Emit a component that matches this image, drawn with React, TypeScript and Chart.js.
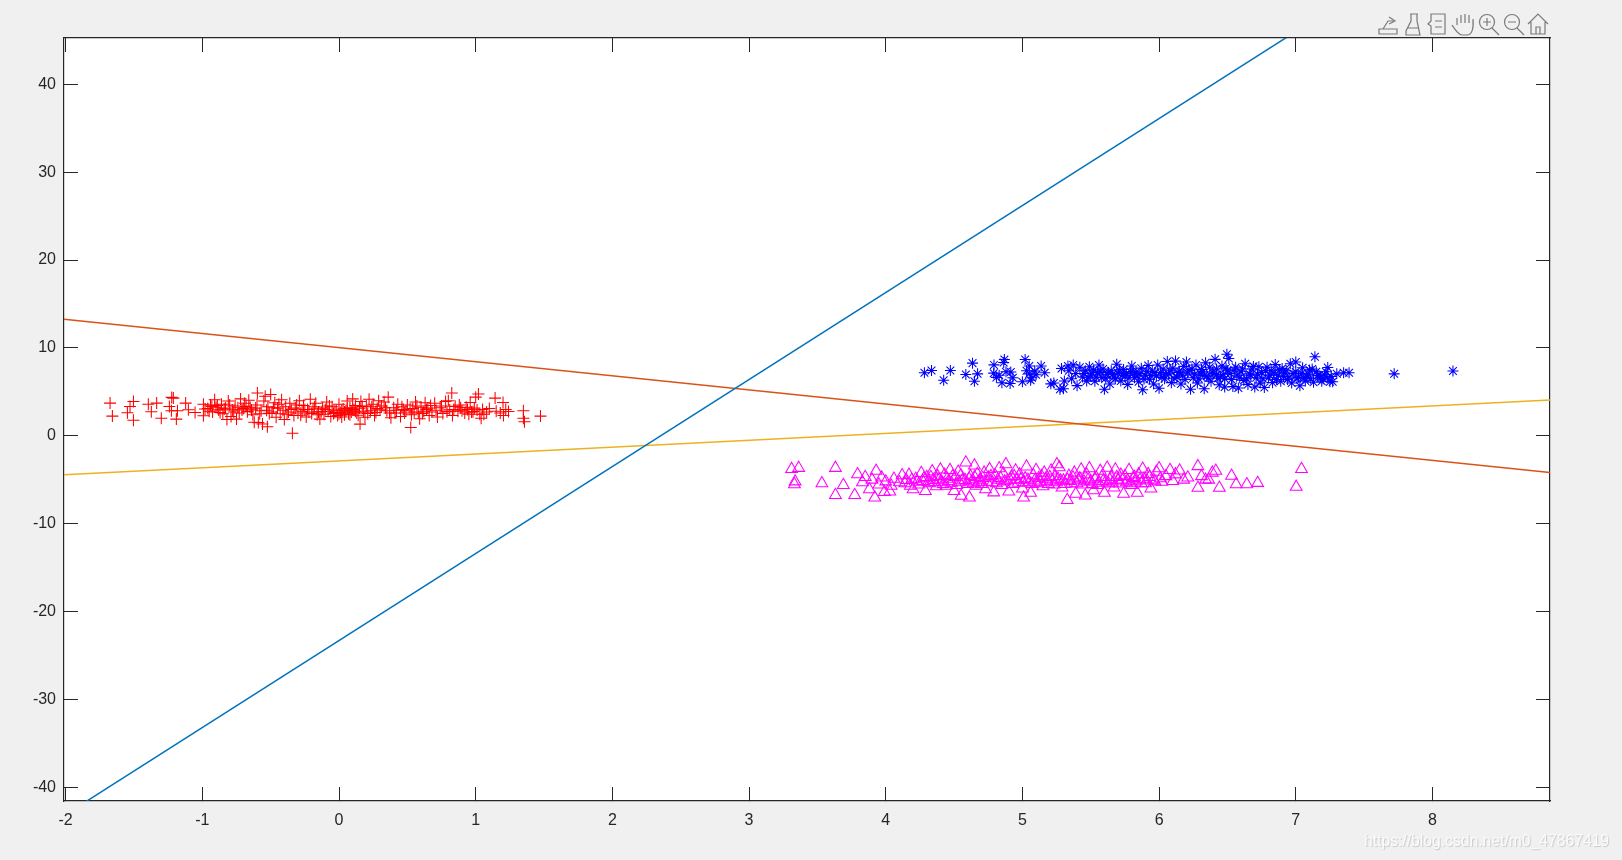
import React, { useEffect, useRef } from "react";
import { Chart, registerables } from "chart.js";

Chart.register(...registerables);

const xTickValues = [-2, -1, 0, 1, 2, 3, 4, 5, 6, 7, 8];
const yTickValues = [-40, -30, -20, -10, 0, 10, 20, 30, 40];
const xRange = [-2.012, 8.86];
const yRange = [-41.56, 45.27];

const redPoints = [
  [-1.675,3.72],[-1.658,2.24],[-1.548,2.62],[-1.529,3.34],[-1.504,3.91],[-1.504,1.78],[-1.395,3.6],[-1.373,2.73],[-1.334,3.72],[-1.3,2.0],
  [-1.241,3.34],[-1.224,4.37],[-1.212,4.29],[-1.226,2.85],[-1.19,1.9],[-1.182,2.85],[-1.122,3.72],[-1.102,2.96],[-1.053,2.66],[-0.992,3.6],
  [-0.992,2.28],[-0.96,3.1],[-0.94,3.5],[-0.925,2.7],[-0.91,4.1],[-0.9,3.25],[-0.88,2.95],[-0.86,3.6],[-0.85,2.5],[-0.83,3.15],
  [-0.82,1.85],[-0.81,3.95],[-0.79,2.2],[-0.78,2.95],[-0.76,3.4],[-0.75,1.9],[-0.73,2.6],[-0.72,4.2],[-0.7,3.1],[-0.69,3.7],
  [-0.67,2.75],[-0.66,4.05],[-0.65,3.25],[-0.63,2.4],[-0.62,1.55],[-0.6,3.5],[-0.597,4.86],[-0.59,1.5],[-0.57,2.85],[-0.56,1.35],
  [-0.55,3.95],[-0.54,4.5],[-0.524,1.03],[-0.52,3.3],[-0.5,4.7],[-0.49,2.7],[-0.47,3.75],[-0.46,2.1],[-0.45,3.15],[-0.43,2.5],
  [-0.42,4.1],[-0.4,1.85],[-0.39,3.3],[-0.37,2.7],[-0.36,3.7],[-0.341,0.3],[-0.33,2.3],[-0.32,3.15],[-0.3,2.6],[-0.29,4.0],
  [-0.27,2.8],[-0.26,3.45],[-0.24,2.15],[-0.23,3.0],[-0.21,4.15],[-0.2,2.55],[-0.18,3.3],[-0.17,3.7],[-0.15,2.7],[-0.14,1.9],
  [-0.12,3.15],[-0.11,2.45],[-0.09,3.85],[-0.08,2.8],[-0.06,2.2],[-0.05,3.3],[-0.04,2.55],[-0.02,2.9],[-0.01,2.3],[0.0,3.6],
  [0.01,2.65],[0.02,2.15],[0.03,3.05],[0.04,2.4],[0.05,2.85],[0.06,3.95],[0.07,2.5],[0.08,3.2],[0.09,2.7],[0.1,4.2],
  [0.11,2.95],[0.12,3.45],[0.13,2.6],[0.15,3.15],[0.154,1.33],[0.16,3.9],[0.18,2.7],[0.19,2.1],[0.2,3.4],[0.22,4.15],
  [0.23,2.85],[0.25,3.6],[0.26,2.3],[0.28,3.1],[0.29,4.0],[0.31,3.4],[0.33,3.85],[0.35,2.85],[0.36,4.4],[0.38,2.05],
  [0.4,3.2],[0.41,2.6],[0.43,3.6],[0.45,2.2],[0.47,3.0],[0.48,2.6],[0.5,3.5],[0.525,0.95],[0.53,2.4],[0.54,3.1],
  [0.56,3.85],[0.58,2.6],[0.59,1.95],[0.6,3.25],[0.62,2.8],[0.63,3.75],[0.65,3.15],[0.66,2.3],[0.68,2.7],[0.7,3.7],
  [0.72,2.15],[0.74,3.2],[0.76,2.55],[0.78,3.9],[0.8,4.0],[0.825,4.86],[0.81,2.95],[0.83,2.3],[0.85,3.35],[0.87,2.8],
  [0.89,3.2],[0.92,2.6],[0.94,3.0],[0.96,3.8],[0.97,2.7],[0.99,3.15],[1.0,4.4],[1.02,4.75],[1.03,2.45],[1.04,2.0],
  [1.05,3.0],[1.08,2.7],[1.142,4.29],[1.15,2.8],[1.2,3.8],[1.203,2.3],[1.22,3.0],[1.24,2.77],[1.349,2.85],[1.349,2.0],
  [1.357,1.6],[1.474,2.24],
  [-0.98,3.05],[-0.95,2.8],[-0.93,3.35],[-0.89,3.45],[-0.87,2.65],[-0.84,3.05],[-0.8,3.5],[-0.77,2.7],[-0.74,3.2],[-0.71,2.95],
  [-0.68,3.35],[-0.64,2.95],[-0.61,3.15],[-0.58,2.5],[-0.53,2.9],[-0.51,2.55],[-0.48,3.2],[-0.44,3.6],[-0.41,2.9],[-0.38,2.45],
  [-0.35,3.0],[-0.31,3.5],[-0.28,2.35],[-0.25,3.0],[-0.22,2.7],[-0.19,3.05],[-0.16,2.4],[-0.13,2.75],[-0.1,3.0],[-0.07,3.4],
  [-0.03,2.65],[0.0,2.5],[0.02,2.9],[0.04,2.7],[0.06,3.1],[0.08,2.4],[0.1,3.0],[0.12,2.8],[0.14,2.35],[0.17,3.35],
  [0.21,2.55],[0.24,3.3],[0.27,2.65],[0.3,2.95],[0.34,3.2],[0.37,2.6],[0.42,2.9],[0.46,3.3],[0.49,2.85],[0.52,3.05],
  [0.55,2.7],[0.57,3.4],[0.61,2.55],[0.64,3.0],[0.67,3.45],[0.71,2.9],[0.75,3.4],[0.79,2.75],[0.84,3.0],[0.88,3.5],
  [0.9,2.85],[0.93,3.25],[0.95,2.45],[0.98,2.75],[1.01,2.95],[1.06,2.45],[1.1,3.1],[1.18,2.6]
];

const bluePoints = [
  [4.283,7.17],[4.335,7.42],[4.424,6.32],[4.473,7.42],[4.586,6.97],[4.635,8.27],[4.672,7.05],[4.649,6.2],[4.792,8.07],[4.79,7.13],
  [4.868,8.68],[4.863,8.35],[4.81,6.65],[4.85,6.03],[4.91,5.95],[4.915,7.25],[5.02,8.68],[5.05,7.95],[5.0,6.16],[5.06,6.32],
  [5.05,7.05],[5.137,7.95],[5.163,7.17],[5.09,7.38],[5.208,5.91],[5.23,6.0],[5.275,5.3],[5.3,5.35],[5.286,7.66],[5.333,7.95],
  [5.372,8.07],[5.307,6.24],[5.4,5.71],[5.34,7.4],[5.36,6.5],[5.39,7.1],[5.42,7.8],[5.44,6.7],[5.46,7.4],[5.47,6.25],
  [5.49,7.85],[5.5,6.9],[5.52,7.5],[5.53,6.2],[5.55,7.2],[5.56,8.05],[5.58,6.6],[5.6,5.3],[5.59,7.6],[5.62,7.0],
  [5.64,5.9],[5.65,7.4],[5.67,6.7],[5.69,8.15],[5.7,7.15],[5.72,6.25],[5.74,7.55],[5.75,6.85],[5.77,5.85],[5.79,7.3],
  [5.8,7.95],[5.82,6.6],[5.83,7.25],[5.85,6.15],[5.87,7.7],[5.88,5.25],[5.9,6.9],[5.92,8.0],[5.93,6.45],[5.95,7.35],
  [5.96,5.9],[5.98,6.8],[5.99,8.05],[6.0,5.4],[6.01,7.2],[6.03,7.6],[6.04,6.5],[6.06,8.45],[6.07,7.05],[6.09,6.05],
  [6.1,7.7],[6.12,8.5],[6.13,6.7],[6.15,7.3],[6.16,5.9],[6.18,7.9],[6.19,6.4],[6.2,8.4],[6.21,7.15],[6.23,5.3],
  [6.24,7.6],[6.25,6.6],[6.27,8.05],[6.28,6.0],[6.3,7.15],[6.31,7.55],[6.33,5.35],[6.34,8.3],[6.35,6.8],[6.37,7.8],
  [6.38,6.2],[6.39,7.25],[6.41,8.7],[6.42,7.6],[6.43,6.55],[6.44,5.8],[6.46,7.95],[6.47,7.0],[6.48,5.55],[6.496,9.29],
  [6.5,7.4],[6.51,8.8],[6.53,6.4],[6.54,5.6],[6.56,7.8],[6.57,6.9],[6.58,5.45],[6.6,7.3],[6.62,6.3],[6.63,8.2],
  [6.65,5.85],[6.66,7.05],[6.68,7.6],[6.7,5.55],[6.71,6.6],[6.73,7.85],[6.74,6.0],[6.75,7.2],[6.77,5.5],[6.79,7.8],
  [6.8,6.6],[6.82,7.4],[6.83,6.05],[6.85,8.1],[6.87,6.9],[6.89,6.2],[6.9,7.65],[6.92,7.15],[6.94,6.4],[6.96,8.2],
  [6.97,6.0],[7.0,8.4],[7.0,7.3],[7.02,6.65],[7.03,5.7],[7.05,7.75],[7.08,6.8],[7.07,6.25],[7.1,7.5],[7.13,6.1],
  [7.14,9.0],[7.15,7.3],[7.17,6.85],[7.19,6.2],[7.2,6.5],[7.22,7.3],[7.25,6.15],[7.27,6.15],[7.18,6.6],[7.23,6.6],
  [7.234,7.77],[7.3,7.05],[7.35,7.17],[7.39,7.18],[7.72,7.05],[8.15,7.38],
  [4.83,6.9],[4.88,7.3],[4.93,6.6],[5.03,7.4],[5.07,6.6],[5.1,6.95],[5.45,7.1],[5.48,6.6],[5.51,7.15],[5.54,6.7],
  [5.57,7.35],[5.61,6.55],[5.63,7.2],[5.66,7.0],[5.68,6.5],[5.71,7.5],[5.73,6.9],[5.76,7.1],[5.78,6.6],[5.81,7.3],
  [5.84,6.8],[5.86,7.1],[5.89,6.45],[5.91,7.35],[5.94,6.85],[5.97,7.2],[6.02,6.65],[6.05,7.0],[6.08,7.4],[6.11,6.55],
  [6.14,7.2],[6.17,6.9],[6.22,7.45],[6.26,7.0],[6.29,6.5],[6.32,7.3],[6.36,6.55],[6.4,7.1],[6.45,6.7],[6.49,7.7],
  [6.52,7.1],[6.55,7.5],[6.59,6.6],[6.61,7.6],[6.64,6.5],[6.67,6.9],[6.69,7.9],[6.72,7.0],[6.76,6.5],[6.78,7.4],
  [6.81,6.9],[6.84,7.15],[6.86,6.4],[6.88,7.5],[6.91,6.75],[6.93,7.4],[6.95,6.7],[6.98,7.1],[7.01,6.5],[7.04,7.1],
  [7.06,6.6],[7.09,7.0],[7.11,6.5],[7.12,7.6],[7.16,6.9],[7.21,6.95],[7.26,6.75],[6.33,6.85],[6.42,6.95],[6.48,6.5]
];

const magentaPoints = [
  [3.311,-3.78],[3.363,-3.66],[3.632,-3.66],[3.337,-5.2],[3.332,-5.53],[3.533,-5.41],[3.632,-6.75],[3.69,-5.61],[3.773,-6.75],[3.794,-4.39],
  [3.83,-5.3],[3.85,-4.7],[3.88,-6.1],[3.9,-5.0],[3.92,-7.04],[3.93,-4.0],[3.95,-5.55],[3.97,-4.75],[3.99,-6.4],[4.0,-5.2],
  [4.03,-6.35],[4.04,-5.7],[4.06,-4.9],[4.1,-5.3],[4.12,-4.5],[4.15,-5.05],[4.17,-4.45],[4.18,-5.7],[4.2,-6.1],[4.22,-4.9],
  [4.24,-5.55],[4.26,-4.25],[4.27,-5.15],[4.29,-6.3],[4.3,-4.7],[4.32,-5.4],[4.34,-4.05],[4.35,-5.05],[4.37,-5.75],[4.38,-4.6],
  [4.4,-3.85],[4.41,-5.25],[4.43,-4.45],[4.44,-5.7],[4.45,-4.9],[4.47,-3.9],[4.48,-5.35],[4.5,-6.3],[4.51,-4.7],[4.52,-5.6],
  [4.53,-4.1],[4.552,-6.83],[4.56,-5.1],[4.586,-3.05],[4.6,-5.5],[4.612,-7.04],[4.62,-4.6],[4.63,-5.2],[4.649,-3.38],[4.66,-5.7],
  [4.67,-4.35],[4.69,-5.0],[4.7,-5.5],[4.72,-4.2],[4.73,-6.1],[4.75,-4.75],[4.76,-3.8],[4.78,-5.3],[4.79,-6.45],[4.8,-4.5],
  [4.82,-5.0],[4.83,-3.7],[4.85,-5.6],[4.86,-4.3],[4.879,-3.25],[4.89,-5.1],[4.9,-6.35],[4.92,-4.65],[4.93,-5.5],[4.95,-3.95],
  [4.96,-5.0],[4.98,-4.4],[5.0,-6.0],[5.009,-7.04],[5.02,-4.85],[5.03,-3.5],[5.05,-5.3],[5.06,-6.5],[5.08,-4.5],[5.1,-3.9],
  [5.11,-5.4],[5.12,-4.8],[5.15,-5.75],[5.16,-4.2],[5.18,-5.2],[5.2,-4.7],[5.21,-3.95],[5.23,-5.55],[5.252,-3.25],[5.26,-4.9],
  [5.27,-3.6],[5.29,-5.9],[5.3,-5.1],[5.328,-7.32],[5.34,-4.55],[5.36,-5.45],[5.38,-4.2],[5.39,-6.6],[5.41,-5.0],[5.43,-3.85],
  [5.44,-5.55],[5.46,-6.8],[5.47,-4.4],[5.49,-3.7],[5.5,-5.2],[5.52,-6.2],[5.54,-4.75],[5.55,-5.6],[5.57,-4.0],[5.59,-5.15],
  [5.6,-6.5],[5.62,-3.65],[5.63,-5.45],[5.65,-4.7],[5.67,-5.9],[5.68,-3.85],[5.7,-5.1],[5.72,-4.45],[5.74,-6.6],[5.76,-5.3],
  [5.78,-3.9],[5.8,-5.6],[5.82,-4.7],[5.84,-6.5],[5.86,-5.0],[5.88,-3.75],[5.9,-5.4],[5.92,-4.35],[5.94,-6.0],[5.96,-5.0],
  [5.98,-4.1],[6.0,-3.7],[6.02,-5.25],[6.05,-4.6],[6.08,-3.9],[6.1,-5.15],[6.12,-4.4],[6.15,-3.95],[6.18,-5.0],[6.21,-4.75],
  [6.284,-3.46],[6.284,-5.92],[6.31,-4.6],[6.34,-5.0],[6.363,-5.0],[6.39,-4.2],[6.415,-3.99],[6.441,-5.92],[6.53,-4.56],[6.564,-5.53],
  [6.642,-5.53],[6.721,-5.37],[7.042,-3.78],[7.003,-5.82],
  [4.14,-5.4],[4.19,-5.0],[4.23,-5.25],[4.28,-4.85],[4.31,-5.3],[4.33,-4.7],[4.36,-5.3],[4.39,-5.0],[4.42,-5.5],[4.46,-5.15],
  [4.49,-4.6],[4.54,-5.3],[4.55,-4.5],[4.58,-5.05],[4.61,-4.9],[4.64,-5.4],[4.65,-4.7],[4.68,-5.3],[4.71,-4.8],[4.74,-5.25],
  [4.77,-4.6],[4.81,-5.4],[4.84,-4.8],[4.87,-5.2],[4.91,-5.0],[4.94,-4.6],[4.97,-5.35],[4.99,-4.95],[5.01,-5.3],[5.04,-5.0],
  [5.07,-5.5],[5.09,-5.1],[5.13,-5.3],[5.14,-4.6],[5.17,-4.9],[5.19,-5.5],[5.22,-5.1],[5.24,-4.6],[5.25,-5.3],[5.28,-5.1],
  [5.31,-5.5],[5.33,-5.0],[5.35,-5.15],[5.37,-4.75],[5.4,-5.4],[5.42,-4.85],[5.45,-5.2],[5.48,-5.0],[5.51,-5.5],[5.53,-4.9],
  [5.56,-5.35],[5.58,-4.7],[5.61,-5.2],[5.64,-5.0],[5.66,-5.35],[5.69,-4.7],[5.71,-5.45],[5.73,-5.0],[5.75,-4.6],[5.77,-5.1],
  [5.79,-5.4],[5.81,-4.8],[5.83,-5.2],[5.85,-4.4],[5.87,-5.4],[5.89,-4.9],[5.91,-5.1],[5.93,-4.7],[5.97,-5.2],[6.01,-4.85]
];

const blueLine = [[-2.012,-43.22],[8.86,64.42]];
const orangeLine = [[-2.012,13.25],[8.86,-4.18]];
const yellowLine = [[-2.012,-4.42],[8.86,4.07]];

const toXY = (rows: number[][]) => rows.map(([x, y]) => ({ x, y }));
const AXIS = "#262626";

function Toolbar() {
  const s = { fill: "none", stroke: "#7a7a7a", strokeWidth: 1.2 };
  return (
    <svg width={180} height={28} style={{ position: "absolute", left: 1375, top: 10 }} viewBox="0 0 180 28">
      <g {...s}>
        <path d="M8 19 L13 11 L18 11 M14 7 L20 11 L14 14 M4 19 L4 24 L22 24 L22 19 Z" />
        <path d="M35 4 H43 M36 4 V11 L31 21 V25 H45 L42 11 V4 M32 18 H44" />
        <path d="M56 4 H70 V24 H56 V16 L53 14 L56 11 Z M60 11 H67 M60 17 H67" />
        <path d="M82 15 V8 M86 13 V5 M90 13 V4 M94 13 V5 M98 15 V9 C99 18 97 25 92 25 H87 C83 25 79 18 77 15" />
        <circle cx={112} cy={12} r={7.5} /><path d="M117 18 L124 25 M108 12 H116 M112 8 V16" />
        <circle cx={137} cy={12} r={7.5} /><path d="M142 18 L149 25 M133 12 H141" />
        <path d="M153 14 L163 4 L173 14 M156 12 V24 H170 V12 M161 24 V17 H165 V24" />
      </g>
    </svg>
  );
}

export default function App() {
  const ref = useRef<HTMLCanvasElement>(null);
  useEffect(() => {
    const ticksOf = (vals: number[]) => (s: any) => { s.ticks = vals.map((value) => ({ value })); };
    const grid = { display: true, drawOnChartArea: false, drawTicks: true, tickLength: -14, tickWidth: 1, tickColor: AXIS };
    const border = { display: true, color: AXIS, width: 1.2 };
    const hiddenLabels = { display: false };
    const lab = { color: AXIS, font: { family: "'Liberation Sans', Arial, sans-serif", size: 16 }, maxRotation: 0, autoSkip: false };
    const line = (data: number[][], color: string) => ({
      type: "line", data: toXY(data), borderColor: color, borderWidth: 1.5, pointRadius: 0, showLine: true, fill: false,
    });
    const marks = (data: number[][], color: string, style: string, r: number) => ({
      type: "scatter", data: toXY(data), borderColor: color, backgroundColor: "transparent", pointBorderColor: color,
      pointBackgroundColor: "transparent", pointStyle: style, pointRadius: r, pointBorderWidth: 1.05, showLine: false,
    });
    const chart = new Chart(ref.current!, {
      type: "scatter",
      data: {
        datasets: [
          marks(redPoints, "#FF0000", "cross", 6),
          marks(bluePoints, "#0000FF", "star", 5.5),
          marks(magentaPoints, "#FF00FF", "triangle", 6.8),
          line(blueLine, "#0072BD"),
          line(orangeLine, "#D95319"),
          line(yellowLine, "#EDB120"),
        ] as any,
      },
      options: {
        animation: false,
        responsive: false,
        devicePixelRatio: 1,
        plugins: { legend: { display: false }, tooltip: { enabled: false } },
        scales: {
          x: {
            type: "linear", position: "bottom", min: xRange[0], max: xRange[1], afterBuildTicks: ticksOf(xTickValues),
            afterFit: (s: any) => { s.height = 59; }, grid, border,
            ticks: { ...lab, padding: 24, callback: (v: any) => String(v) },
          },
          y: {
            type: "linear", position: "left", min: yRange[0], max: yRange[1], afterBuildTicks: ticksOf(yTickValues),
            afterFit: (s: any) => { s.width = 64; }, grid, border,
            ticks: { ...lab, padding: 22, callback: (v: any) => String(v) },
          },
          xTop: {
            type: "linear", axis: "x", position: "top", min: xRange[0], max: xRange[1], afterBuildTicks: ticksOf(xTickValues),
            afterFit: (s: any) => { s.height = 38; }, grid, border, ticks: hiddenLabels,
          },
          yRight: {
            type: "linear", axis: "y", position: "right", min: yRange[0], max: yRange[1], afterBuildTicks: ticksOf(yTickValues),
            afterFit: (s: any) => { s.width = 72; }, grid, border, ticks: hiddenLabels,
          },
        },
      } as any,
    });
    return () => chart.destroy();
  }, []);
  return (
    <div style={{ position: "fixed", left: 0, top: 0, width: 1622, height: 860, background: "#F0F0F0", overflow: "hidden" }}>
      <div style={{ position: "absolute", left: 64, top: 38, width: 1486, height: 763, background: "#FFFFFF" }} />
      <canvas ref={ref} width={1622} height={860} style={{ position: "absolute", left: 0, top: 0, width: 1622, height: 860 }} />
      <Toolbar />
      <div style={{ position: "absolute", left: 1364, top: 832, width: 258, fontFamily: "'Liberation Sans', Arial, sans-serif", fontSize: 15.7, color: "#FBFBFB", textShadow: "1px 1px 1px #C8C8C8", whiteSpace: "nowrap" }}>
        https://blog.csdn.net/m0_47867419
      </div>
    </div>
  );
}
